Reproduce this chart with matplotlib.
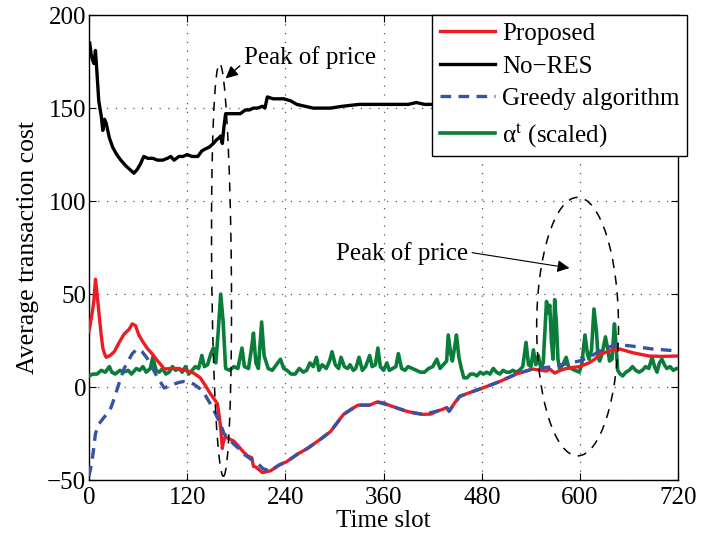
import numpy as np
import matplotlib.pyplot as plt
from matplotlib.patches import Ellipse

plt.rcParams['font.family'] = ['Liberation Serif', 'DejaVu Serif']
plt.rcParams['mathtext.fontset'] = 'stix'

# No-RES cost
nores_x = [1, 3, 6, 8, 10, 12, 15, 17, 19, 21, 25, 29, 34, 39, 45, 50, 55, 59, 63, 67, 72, 78, 84, 90,
           96, 100, 104, 110, 115, 120, 126, 133, 138, 142, 147, 152, 156, 159, 161, 163, 165, 167,
           172, 178, 185, 191, 196, 201, 206, 212, 215, 218, 225, 232, 238, 246, 254, 264, 274, 285,
           295, 310, 330, 350, 370, 390, 400, 410, 420, 440, 480, 520, 560, 600, 640, 680, 720]
nores_y = [185, 178, 174, 181, 168, 154, 146, 138, 144, 142, 134, 129, 125, 122, 119, 117, 115, 117,
           120, 124, 123, 123, 122, 122, 123, 124, 122, 124, 124, 125, 124, 124, 127, 128, 129, 131,
           133, 134, 135, 131, 140, 147, 147, 147, 147, 149, 149, 150, 150, 151, 150, 156, 155, 155,
           155, 154, 152, 151, 150, 150, 150, 151, 152, 152, 152, 152, 153, 152, 152, 152, 152, 152,
           152, 152, 152, 152, 152]

# Proposed scheme
prop_x = [0, 1, 4, 6, 8, 10, 12, 15, 17, 19, 21, 26, 31, 37, 43, 49, 53, 57, 61, 65, 71, 77, 84,
          88, 92, 100, 108, 118, 128, 136, 142, 149, 154, 157, 159, 161, 163, 164, 166, 168, 172,
          177, 183, 189, 194, 199, 201, 204, 212, 217, 222, 232, 242, 255, 267, 283, 295, 311, 320,
          329, 336, 343, 352, 360, 368, 378, 388, 398, 408, 418, 425, 432, 437, 440, 446, 453, 465,
          481, 502, 522, 542, 552, 559, 563, 569, 576, 583, 591, 599, 611, 618, 624, 636, 648,
          664, 684, 700, 720]
prop_y = [30, 32, 40, 46, 58, 50, 41, 28, 21, 18, 16, 17, 19, 24, 28.5, 31, 34, 33, 28, 25, 21,
          18, 14, 12, 9.7, 10, 10, 9, 7.5, 5, 1, -4, -7, -9, -15, -22, -33, -30, -27, -27, -28,
          -29, -32, -35, -37, -38, -42.6, -43, -46, -45.5, -45, -42, -40, -36, -33, -28, -24,
          -14.7, -12, -9.7, -9.7, -9.7, -8, -8.5, -10, -11.5, -13, -14, -14.7, -14.5, -13, -12,
          -11, -13, -9, -5, -3, -0.5, 3, 7, 9.7, 9, 8.6, 9.7, 7.5, 9, 10, 10.5, 11, 13, 15, 17.6,
          19.4, 20.5, 18.5, 16.7, 16.5, 16.7]

# Greedy algorithm
greedy_x = [0, 2, 5, 8, 12, 18, 23, 27, 31, 35, 39, 43, 48, 53, 59, 65, 71, 78, 84, 92, 98, 104,
            110, 116, 122, 128, 136, 141, 145, 151, 157, 161, 165, 171, 177, 183, 189, 197, 206,
            213, 222, 232, 242, 255, 267, 283, 295, 311, 329, 343, 352, 368, 388, 408, 425, 437,
            440, 453, 465, 481, 502, 522, 542, 567, 583, 599, 611, 624, 644, 664, 688, 720]
greedy_y = [-48, -44, -36, -25, -20, -16.5, -14, -11, -6, -0.5, 5, 10, 14, 18, 20.5, 19, 15.6,
            10, 5, -0.5, 0.5, 1.6, 2.5, 3, 2.5, 1.6, -1, -3.5, -6.5, -11, -16.5, -20, -25, -28,
            -30.7, -33, -36, -38.5, -41, -44, -45, -42, -40, -36, -33, -28, -24, -14.7, -9.7,
            -9.7, -8, -10, -13, -14.7, -13, -11, -13, -5, -3, -0.5, 3, 7, 9.7, 11, 12.5, 14,
            16, 19.4, 23, 22, 20.5, 19.4]

# alpha^t (scaled)
alpha_x = [0, 5, 10, 15, 20, 25, 28, 32, 38, 42, 48, 52, 58, 62, 66, 70, 75, 78, 82, 86, 90, 94,
           98, 102, 106, 110, 114, 118, 122, 126, 130, 134, 138, 141, 145, 149, 152, 155, 158,
           161, 164, 167, 172, 177, 182, 187, 190, 195, 199, 201, 204, 207, 211, 214, 219, 224,
           229, 234, 238, 242, 247, 252, 257, 262, 266, 270, 274, 278, 281, 285, 290, 294, 297,
           301, 305, 308, 312, 316, 319, 323, 326, 330, 334, 338, 343, 346, 350, 353, 356, 360,
           364, 367, 371, 375, 378, 382, 386, 390, 395, 400, 405, 410, 415, 420, 425, 429, 433,
           437, 439, 442, 444, 447, 449, 452, 455, 458, 462, 466, 470, 474, 478, 482, 486, 490,
           494, 498, 502, 506, 510, 514, 518, 522, 526, 530, 534, 537, 540, 543, 546, 549, 552,
           555, 557, 559, 561, 563, 565, 567, 569, 571, 573, 575, 579, 583, 586, 589, 594, 599,
           602, 606, 609, 611, 614, 617, 620, 622, 624, 627, 631, 634, 636, 639, 642, 644, 646,
           649, 652, 656, 660, 664, 668, 672, 676, 680, 684, 688, 691, 694, 697, 700, 703, 706,
           710, 714, 718, 720]
alpha_y = [6, 7, 7, 9, 8, 11, 8, 7, 9, 8, 9, 7, 10, 9, 11, 8, 10, 16, 9, 8, 10, 7, 8, 11, 9, 10,
           8, 11, 7, 9, 11, 10, 17, 11, 12, 18, 21, 13, 30, 50, 35, 10, 9, 11, 10, 21, 11, 10, 22,
           29, 13, 10, 35, 17, 10, 9, 12, 15, 10, 9, 7, 7, 10, 8, 9, 13, 11, 16, 9, 12, 10, 14,
           19, 12, 10, 16, 11, 10, 12, 9, 10, 16, 9, 11, 17, 11, 12, 21, 11, 9, 13, 9, 10, 11, 18,
           10, 9, 11, 10, 9, 8, 8, 10, 11, 15, 10, 12, 14, 28, 18, 14, 22, 28, 16, 10, 5, 5, 7, 7,
           6, 8, 7, 8, 7, 10, 8, 7, 9, 8, 8, 9, 8, 9, 11, 24, 12, 11, 20, 12, 17, 10, 13, 30, 46,
           40, 44, 25, 15, 47, 35, 15, 10, 12, 16, 11, 10, 9, 8, 12, 28, 18, 15, 20, 42, 30, 16,
           14, 18, 27, 20, 14, 15, 34, 22, 9, 7, 6, 8, 9, 11, 9, 8, 9, 11, 10, 16, 11, 8, 13, 15,
           12, 10, 11, 9, 10, 10]

x_ticks = [0, 120, 240, 360, 480, 600, 720]
y_ticks = [-50, 0, 50, 100, 150, 200]

fig = plt.figure(figsize=(7.17, 5.4), dpi=100)
ax = fig.add_axes([0.124, 0.111, 0.822, 0.861])

ax.plot(prop_x, prop_y, color='#ed1c24', lw=2.4, label='Proposed', zorder=4)
ax.plot(nores_x, nores_y, color='black', lw=2.4, label='No\u2212RES', zorder=3)
ax.plot(greedy_x, greedy_y, color='#3953a4', lw=2.4, ls=(0, (3.2, 2.2)), label='Greedy algorithm', zorder=5)
ax.plot(alpha_x, alpha_y, color='#0b7d3b', lw=2.6, label='\u03b1$^{\\rm t}$ (scaled)', zorder=3)

# dashed ellipses around the price peaks
ax.add_patch(Ellipse((162, 63), 24, 222, angle=1.2, fill=False, ls=(0, (6, 5)), lw=1.1,
                     color='black', zorder=6))
ax.add_patch(Ellipse((597, 32.5), 100, 139, fill=False, ls=(0, (6, 5)), lw=1.1,
                     color='black', zorder=6))

ax.annotate('Peak of price', xy=(167, 166), xytext=(189, 177), fontsize=18, va='center',
            ha='left', arrowprops=dict(arrowstyle='-|>', color='black', lw=1.0,
                                        mutation_scale=18, relpos=(0, 0.3), shrinkA=1, shrinkB=0))
ax.annotate('Peak of price', xy=(587, 64), xytext=(463, 72), fontsize=18, va='center',
            ha='right', arrowprops=dict(arrowstyle='-|>', color='black', lw=0.8,
                                        mutation_scale=18, relpos=(1, 0.55), shrinkA=1, shrinkB=0))

ax.set_xlim(0, 720)
ax.set_ylim(-50, 200)
ax.set_xticks(x_ticks)
ax.set_yticks(y_ticks)
ax.tick_params(direction='in', top=True, right=True, labelsize=18, length=5, pad=2)
ax.tick_params(axis='x', pad=5)
ax.grid(True, ls=(0, (1, 6)), color='#555555', lw=0.9)
for s in ax.spines.values():
    s.set_linewidth(1.0)

ax.set_xlabel('Time slot', fontsize=18, labelpad=1)
ax.set_ylabel('Average transaction cost', fontsize=18.5, labelpad=6)

leg = ax.legend(loc='upper right', bbox_to_anchor=(1.015, 1.0), borderaxespad=0, fontsize=18,
                fancybox=False, edgecolor='black', framealpha=1, handlelength=2.2,
                labelspacing=0.4, handletextpad=0.3, borderpad=0.3)
leg.get_frame().set_linewidth(1.0)
leg.set_zorder(10)

fig.savefig('out.png', dpi=100)
